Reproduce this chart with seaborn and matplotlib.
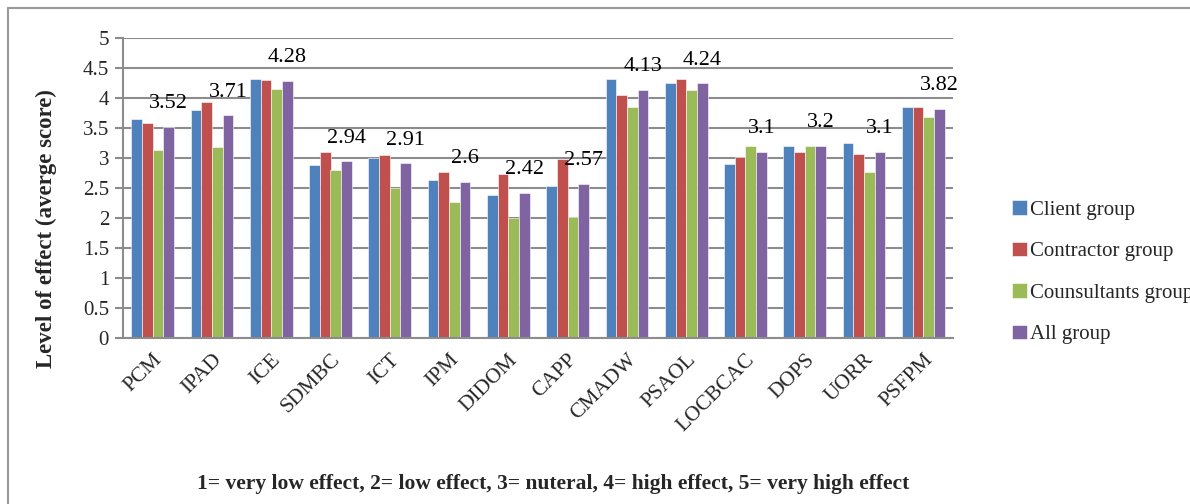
import matplotlib
matplotlib.use("Agg")
import matplotlib.pyplot as plt
import seaborn as sns
import pandas as pd
from matplotlib.lines import Line2D

categories = ["PCM", "IPAD", "ICE", "SDMBC", "ICT", "IPM", "DIDOM", "CAPP",
              "CMADW", "PSAOL", "LOCBCAC", "DOPS", "UORR", "PSFPM"]
client = [3.65, 3.79, 4.31, 2.87, 3.00, 2.62, 2.38, 2.53, 4.31, 4.24, 2.90, 3.19, 3.24, 3.84]
contractor = [3.58, 3.93, 4.29, 3.09, 3.04, 2.77, 2.72, 2.97, 4.05, 4.31, 3.01, 3.09, 3.06, 3.84]
consultants = [3.12, 3.18, 4.14, 2.80, 2.50, 2.26, 2.00, 2.02, 3.84, 4.12, 3.19, 3.20, 2.76, 3.68]
all_group = [3.52, 3.71, 4.28, 2.94, 2.91, 2.60, 2.42, 2.57, 4.13, 4.24, 3.10, 3.20, 3.10, 3.82]
series_names = ["Client group", "Contractor group", "Counsultants group", "All group"]
colors = ["#4F81BD", "#C0504D", "#9BBB59", "#8064A2"]
y_ticks = [0, 0.5, 1, 1.5, 2, 2.5, 3, 3.5, 4, 4.5, 5]

rows = []
for name, vals in zip(series_names, [client, contractor, consultants, all_group]):
    for c, v in zip(categories, vals):
        rows.append({"cat": c, "value": v, "group": name})
df = pd.DataFrame(rows)

sns.set_theme(style="white")
plt.rcParams["font.family"] = ["Liberation Serif", "DejaVu Serif"]

W, H = 1190, 504
fig = plt.figure(figsize=(W / 100, H / 100), dpi=100)
ax = fig.add_axes([123 / W, 1 - 337.7 / H, (953 - 123) / W, (337.7 - 37.7) / H])

sns.barplot(data=df, x="cat", y="value", hue="group", palette=colors,
            width=0.72, gap=0, ax=ax, errorbar=None, saturation=1,
            edgecolor="white", linewidth=0.4)

ax.set_ylim(0, 5)
ax.set_xlim(-0.5, len(categories) - 0.5)
ax.set_yticks(y_ticks)
ax.set_yticklabels([f"{t:g}" for t in y_ticks], fontsize=15)
ax.yaxis.grid(True, color="#8C8C8C", linewidth=1.5)
ax.set_axisbelow(True)
for s in ["top", "right"]:
    ax.spines[s].set_visible(False)
for s in ["left", "bottom"]:
    ax.spines[s].set_color("#8C8C8C")
    ax.spines[s].set_linewidth(1.5)
ax.tick_params(axis="y", which="major", direction="out", length=6, width=1.5,
               color="#8C8C8C", left=True, pad=4)
ax.tick_params(axis="x", length=0, pad=9)
ax.set_xticks(range(len(categories)))
ax.set_xticklabels(categories, rotation=45, ha="right", rotation_mode="anchor",
                   fontsize=15.5)
ax.set_xlabel("")
ax.set_ylabel("")

# data labels on the All group series
purple = ax.containers[3]
for bar, v in zip(purple, all_group):
    ax.annotate(f"{v:g}", (bar.get_x() + bar.get_width() / 2, bar.get_height()),
                xytext=(0, 16.5), textcoords="offset points", ha="center",
                va="center", fontsize=16, color="black")

handles, labels = ax.get_legend_handles_labels()
ax.legend(handles, labels, loc="upper left", bbox_to_anchor=(1002 / W, 1 - 190 / H),
          bbox_transform=fig.transFigure, frameon=False, fontsize=15,
          handlelength=0.7, handleheight=0.7, handletextpad=0.15,
          labelspacing=1.05, borderpad=0)

fig.text(46 / W, 1 - 229 / H, "Level of effect (averge score)", rotation=90,
         ha="center", va="center", fontsize=16.5, fontweight="bold")
fig.text(553 / W, 1 - 484 / H,
         "1= very low effect, 2= low effect, 3= nuteral, 4= high effect, 5= very high effect",
         ha="center", va="center", fontsize=15.5, fontweight="bold")

# outer chart frame (right and bottom edges run off the image)
fig.add_artist(Line2D([8 / W, 1.01], [1 - 8 / H, 1 - 8 / H], transform=fig.transFigure,
                      color="#9A9A9A", linewidth=1.5))
fig.add_artist(Line2D([8 / W, 8 / W], [1 - 8 / H, -0.01], transform=fig.transFigure,
                      color="#9A9A9A", linewidth=1.5))

fig.savefig("out.png", dpi=100)
